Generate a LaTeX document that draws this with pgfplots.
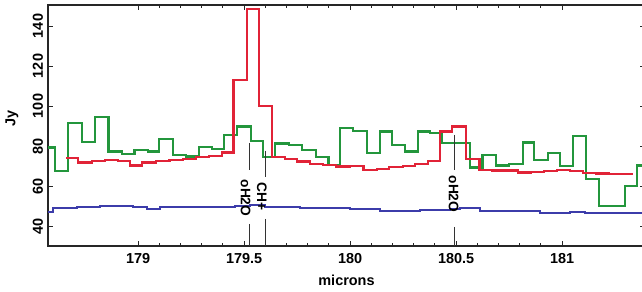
\documentclass[border=0pt]{standalone}
\usepackage{fontspec}
\setmainfont{Liberation Sans}
\usepackage{pgfplots}
\pgfplotsset{compat=1.18}
\definecolor{cred}{RGB}{225,35,55}
\definecolor{cgreen}{RGB}{35,150,60}
\definecolor{cblue}{RGB}{60,60,170}
\begin{document}
\begin{tikzpicture}
\useasboundingbox (-48bp,-46bp) rectangle (594bp,246bp);
\begin{axis}[
  at={(0,0)}, anchor=south west, scale only axis,
  width=597bp, height=241bp,
  xmin=178.575, xmax=181.391, ymin=30, ymax=150.5,
  xtick={179,179.5,180,180.5,181},
  xticklabels={179,179.5,180,180.5,181},
  minor x tick num=4,
  ytick={40,60,80,100,120,140},
  tick align=inside,
  major tick length=5bp, minor tick length=3bp,
  axis line style={line width=1.3bp, black!85},
  tick style={line width=0.9bp, black!85},
  font=\fontsize{14.5}{16}\selectfont\bfseries,
  /pgf/number format/assume math mode=true,
  scaled ticks=false,
  xticklabel style={anchor=center, yshift=-13bp},
  yticklabel style={anchor=center, xshift=-10bp, rotate=90},
  xlabel={microns}, ylabel={Jy},
  xlabel style={at={(axis description cs:0.5,0)}, anchor=center, yshift=-34bp},
  ylabel style={at={(axis description cs:-0.0603,0.531)}, anchor=center},
  clip=true,
]
% blue
\addplot[const plot, cblue, line width=1.9bp] coordinates {
(178.575,47.2) (178.599,48.8) (178.712,49.7) (178.821,50.0) (178.976,49.7)
(179.042,48.5) (179.104,49.3) (179.292,49.7) (179.458,50.0) (179.528,50.5)
(179.599,49.7) (179.764,48.8) (180.000,48.3) (180.142,47.7) (180.330,48.0)
(180.472,48.3) (180.519,48.8) (180.613,47.7) (180.896,46.3) (181.038,47.2)
(181.108,46.3) (181.391,45.8)};
% green
\addplot[const plot, cgreen, line width=2.2bp] coordinates {
(178.575,79.2) (178.608,67.5) (178.671,91.3) (178.734,81.8) (178.797,94.3)
(178.860,77.2) (178.923,76.0) (178.983,78.0) (179.046,77.2) (179.100,83.3)
(179.164,75.5) (179.226,74.7) (179.289,79.3) (179.348,78.3) (179.407,85.5)
(179.468,89.7) (179.532,82.5) (179.588,74.3) (179.646,81.2) (179.712,80.5)
(179.772,78.0) (179.840,74.3) (179.898,70.5) (179.953,88.8) (180.014,87.6)
(180.079,76.3) (180.142,87.2) (180.197,80.5) (180.259,77.2) (180.322,87.2)
(180.377,86.3) (180.433,81.3) (180.566,69.2) (180.624,75.5) (180.687,70.2)
(180.751,70.8) (180.815,81.7) (180.869,73.0) (180.935,76.3) (180.991,70.0)
(181.053,85.0) (181.112,63.5) (181.175,50.0) (181.297,60.0) (181.355,70.2)
(181.391,70.2)};
% red
\addplot[const plot, cred, line width=2.2bp] coordinates {
(178.660,73.8) (178.718,71.7) (178.782,72.5) (178.844,73.0) (178.907,72.5)
(178.962,70.2) (179.019,71.7) (179.085,72.5) (179.148,73.0) (179.211,73.5)
(179.274,74.3) (179.336,75.0) (179.395,76.7) (179.450,113.0) (179.513,148.5)
(179.572,100.0) (179.633,74.3) (179.693,73.3) (179.749,72.2) (179.811,70.8)
(179.873,70.5) (179.934,69.7) (180.000,70.0) (180.063,68.0) (180.126,68.5)
(180.185,69.3) (180.249,70.0) (180.307,70.8) (180.369,72.5) (180.425,87.2)
(180.481,89.7) (180.547,73.3) (180.610,68.0) (180.670,67.7) (180.731,67.7)
(180.792,66.7) (180.854,67.0) (180.915,67.5) (180.976,68.0) (181.038,67.5)
(181.099,66.5) (181.160,66.2) (181.222,66.0) (181.283,66.0) (181.335,66.0)};
% line markers
\addplot[black!80, line width=0.8bp] coordinates {(179.527,81.5) (179.527,68)};
\addplot[black!80, line width=0.8bp] coordinates {(179.527,41) (179.527,30)};
\addplot[black!80, line width=0.8bp] coordinates {(179.600,77.7) (179.600,64.7)};
\addplot[black!80, line width=0.8bp] coordinates {(179.600,43.5) (179.600,30)};
\addplot[black!80, line width=0.8bp] coordinates {(180.490,85.5) (180.490,68)};
\addplot[black!80, line width=0.8bp] coordinates {(180.490,39.5) (180.490,30)};
\node[rotate=-90, font=\fontsize{13.8}{15}\selectfont\bfseries, inner sep=0pt] at (axis cs:179.507,54) {oH2O};
\node[rotate=-90, font=\fontsize{13.8}{15}\selectfont\bfseries, inner sep=0pt] at (axis cs:179.584,54.75) {CH+};
\node[rotate=-90, font=\fontsize{13.8}{15}\selectfont\bfseries, inner sep=0pt] at (axis cs:180.488,56) {oH2O};
\end{axis}
\end{tikzpicture}
\end{document}
